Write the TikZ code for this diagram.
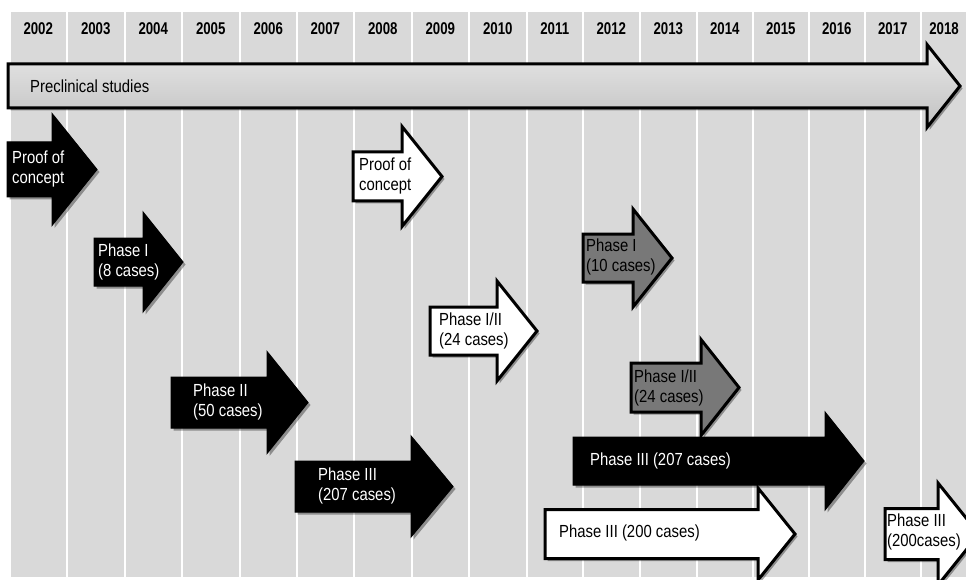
\documentclass[tikz,border=0pt]{standalone}
\usepackage{fontspec}
\usetikzlibrary{shadows}
\newfontfamily\lblfont[FakeStretch=0.85]{Liberation Sans}
\newfontfamily\yrfont[FakeStretch=0.78]{Liberation Sans}
\definecolor{colgray}{RGB}{217,217,217}
\definecolor{midgray}{RGB}{120,120,120}
\newcommand\arrowshape[7]{%
  \path[#1] (#2,{#5-#6}) -- (#3,{#5-#6}) -- (#3,{#5-#7}) -- (#4,#5) --
    (#3,{#5+#7}) -- (#3,{#5+#6}) -- (#2,{#5+#6}) -- cycle;}
\tikzset{
  shade/.style={drop shadow={shadow xshift=2.5pt, shadow yshift=-2.5pt, opacity=0.35, fill=black}},
  blackarrow/.style={fill=black, draw=black, line width=1pt, shade},
  whitearrow/.style={fill=white, draw=black, line width=3pt, line join=miter, shade},
  grayarrow/.style={fill=midgray, draw=black, line width=3pt, line join=miter, shade},
  prearrow/.style={top color=black!9, bottom color=black!24, draw=black, line width=3pt, line join=miter, shade},
  lbl/.style={font=\lblfont\fontsize{17.5}{19.5}\selectfont, align=left, inner sep=0pt, anchor=west},
  wlbl/.style={lbl, text=white},
  yr/.style={font=\yrfont\bfseries\fontsize{17}{19}\selectfont, inner sep=0pt},
}
\begin{document}
\begin{tikzpicture}[x=1pt,y=-1pt]
\useasboundingbox (0,0) rectangle (966,580);
\clip (0,0) rectangle (966,580);
\fill[white] (0,0) rectangle (966,580);
% columns
\foreach \xs/\xe/\yrl in {11/65.5/2002,68/123.5/2003,126/180.5/2004,183/238.5/2005,241/295.5/2006,298/352.5/2007,355/410.5/2008,413/467.5/2009,470/525.5/2010,528/581.5/2011,584/638.5/2012,641/695.5/2013,698/751.5/2014,754/807.5/2015,810/863.5/2016,866/919.5/2017,922/966/2018}{
  \fill[colgray] (\xs,12) rectangle (\xe,577);
  \node[yr] (y\yrl) at ({(\xs+\xe)/2},29) {\yrl};
}
% preclinical
\arrowshape{prearrow}{8}{927}{960}{86}{22}{41.5}
\node[lbl] (pre) at (30,86) {Preclinical studies};
% proof of concept (black)
\arrowshape{blackarrow}{7}{52}{97}{169.5}{27.5}{56}
\node[wlbl] (poc1) at (12,169) {Proof of\\concept};
% phase I (8 cases)
\arrowshape{blackarrow}{94}{143}{183}{262}{24}{50}
\node[wlbl] (p1a) at (98,262) {Phase I\\(8 cases)};
% proof of concept (white)
\arrowshape{whitearrow}{353}{402}{442}{176.5}{24.5}{50}
\node[lbl] (poc2) at (359,176) {Proof of\\concept};
% phase I (10 cases) gray
\arrowshape{grayarrow}{583}{633}{672}{258}{24}{49}
\node[lbl] (p1b) at (586,257) {Phase I\\(10 cases)};
% phase I/II white
\arrowshape{whitearrow}{430}{497}{537}{331}{24}{50}
\node[lbl] (p12a) at (439,331) {Phase I/II\\(24 cases)};
% phase II (50 cases)
\arrowshape{blackarrow}{171}{267}{308}{402.5}{25.5}{51}
\node[wlbl] (p2) at (193,402) {Phase II\\(50 cases)};
% phase III small black
\arrowshape{blackarrow}{295}{411}{453}{486.5}{25.5}{50.5}
\node[wlbl] (p3a) at (318,486) {Phase III\\(207 cases)};
% phase I/II gray
\arrowshape{grayarrow}{631}{701}{739}{387.5}{24.5}{48}
\node[lbl] (p12b) at (634,388) {Phase I/II\\(24 cases)};
% phase III long black
\arrowshape{blackarrow}{573}{825}{864}{461}{24}{49}
\node[wlbl] (p3b) at (590,461) {Phase III (207 cases)};
% phase III (200 cases) white
\arrowshape{whitearrow}{545}{758}{795}{534}{24.5}{46}
\node[lbl] (p3c) at (559,533) {Phase III (200 cases)};
% phase III (200cases) right
\arrowshape{whitearrow}{885}{938}{979}{534}{25.5}{51}
\node[lbl] (p3d) at (887,532) {Phase III\\(200cases)};
\end{tikzpicture}
\end{document}
